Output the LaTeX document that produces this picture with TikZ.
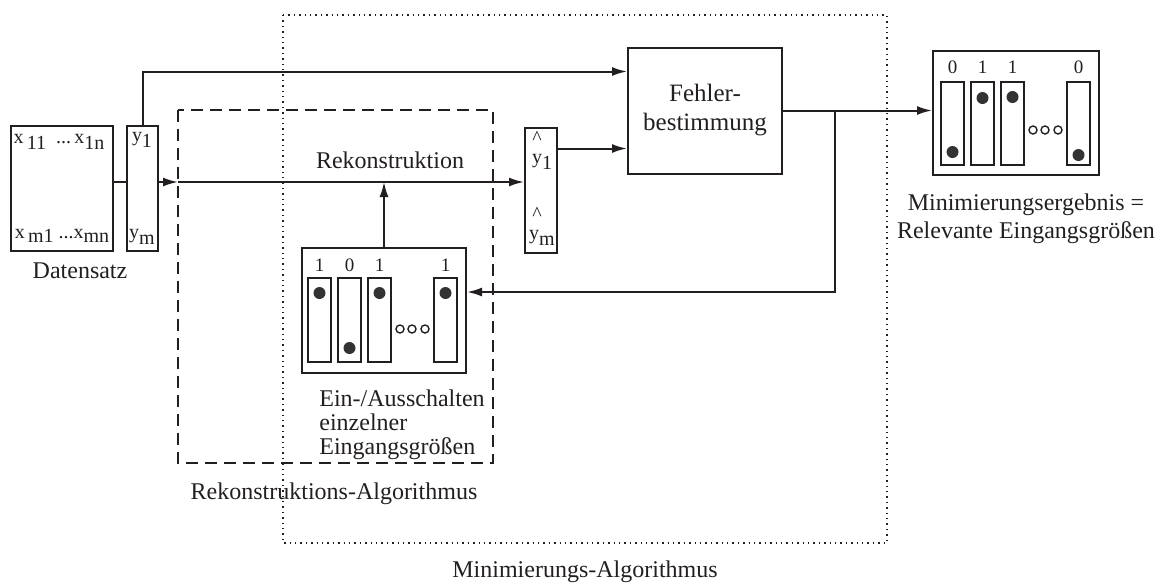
\documentclass[tikz,border=0pt]{standalone}
\usepackage{fontspec}
\setmainfont{Liberation Serif}
\usepackage{tikz}
\usetikzlibrary{arrows.meta}
\definecolor{ink}{HTML}{231F20}
\definecolor{dot}{HTML}{333333}
\tikzset{
  blk/.style={draw=ink, line width=1pt, inner sep=0pt},
  arr/.style={draw=ink, line width=1pt, -{Latex[length=7.5pt,width=4.5pt]}},
  wire/.style={draw=ink, line width=1pt},
  lab/.style={text=ink, font=\fontsize{12}{14}\selectfont},
  small/.style={text=ink, font=\fontsize{10}{11}\selectfont, inner sep=0pt},
  digit/.style={text=ink, font=\fontsize{9.5}{10}\selectfont, inner sep=0pt},
}

\begin{document}
\begin{tikzpicture}[x=0.5pt, y=-0.5pt]
  \useasboundingbox (0,0) rectangle (1158,585);

  % frames of the two algorithms
  \draw[ink, line width=0.7pt, dotted] (283,15) rectangle (887,543);
  \draw[ink, line width=0.9pt, dash pattern=on 6pt off 3.5pt] (178,110) rectangle (493,463);

  % blocks
  \node[blk, minimum width=51pt, minimum height=62.5pt] (data) at (62,188.5) {};
  \node[blk, minimum width=15.5pt, minimum height=62.5pt] (ybox) at (142.5,188.5) {};
  \node[blk, minimum width=16pt, minimum height=62.5pt] (yhat) at (541,190.5) {};
  \node[blk, fill=white, minimum width=77pt, minimum height=63pt, align=center, lab,
        font=\fontsize{12.5}{14.5}\selectfont] (fehler) at (705,110.5) {Fehler-\\bestimmung};
  \node[blk, fill=white, minimum width=82pt, minimum height=62.5pt] (switch) at (384,310.5) {};
  \node[blk, minimum width=83pt, minimum height=62pt] (result) at (1016,112.5) {};

  % texts inside the data blocks
  \node[small] (x1) at (59,142) {x\raisebox{-.7ex}{\,11}\ \ ...\,x\raisebox{-.7ex}{1n}};
  \node[small] (xm) at (62,236) {x\raisebox{-.5ex}{\,m1}\ ...x\raisebox{-.5ex}{mn}};
  \node[small] (y1) at (142,140) {y\raisebox{-.6ex}{1}};
  \node[small] (ym) at (142,237) {y\raisebox{-.6ex}{m}};
  \node[small, anchor=south] (hat1) at (537,145) {\^{}};
  \node[small] (yh1) at (542,162) {y\raisebox{-.6ex}{1}};
  \node[small, anchor=south] (hatm) at (537,221) {\^{}};
  \node[small] (yhm) at (542,238) {y\raisebox{-.6ex}{m}};

  % switches
  \foreach \cx/\bit/\dy in {308/1/293, 338/0/348, 368/1/293, 434/1/293} {
    \draw[wire] (\cx,278) rectangle ++(23,84);
    \node[digit] at (\cx+11.5,265) {\bit};
    \fill[dot] (\cx+11.5,\dy) circle (3pt);
  }
  \foreach \ox in {400,412,425} \draw[ink, line width=0.7pt] (\ox,329) circle (2pt);

  \foreach \cx/\bit/\dy in {941/0/152, 971/1/98, 1001/1/97, 1067/0/155} {
    \draw[wire] (\cx,82) rectangle ++(23,83);
    \node[digit] at (\cx+11.5,67) {\bit};
    \fill[dot] (\cx+11.5,\dy) circle (3pt);
  }
  \foreach \ox in {1033,1045,1058} \draw[ink, line width=0.7pt] (\ox,130) circle (2pt);

  % connectors
  \coordinate (rk) at (178,182);
  \coordinate (fin) at ([yshift=-19pt]fehler.west);
  \coordinate (br) at (835,110.5);
  \draw[wire] (data.east |- rk) -- (ybox.west |- rk);
  \draw[arr] (ybox.east |- rk) -- (rk);
  \draw[arr] (rk) -- (yhat.west |- rk);
  \draw[arr] (switch.north) -- (switch.north |- rk);
  \draw[arr] (ybox.north) |- ([yshift=19.5pt]fehler.west);
  \draw[arr] (yhat.east |- fin) -- (fin);
  \draw[arr] (fehler.east) -- (result.west |- fehler.east);
  \draw[arr] (br) |- ([yshift=9.25pt]switch.east);

  % labels
  \node[lab, anchor=south] (rklab) at (390,176) {Rekonstruktion};
  \node[lab] (dlab) at (80,271) {Datensatz};
  \node[lab, anchor=north west, align=left, inner sep=0pt] (swlab) at (319,389)
    {Ein-/Ausschalten\\[-2pt]einzelner\\[-2pt]Eingangsgrößen};
  \node[lab] (ralab) at (334,494) {Rekonstruktions-Algorithmus};
  \node[lab] (malab) at (585,572) {Minimierungs-Algorithmus};
  \node[lab, align=center] (reslab) at (1026,219)
    {Minimierungsergebnis =\\Relevante Eingangsgrößen};
\end{tikzpicture}
\end{document}
